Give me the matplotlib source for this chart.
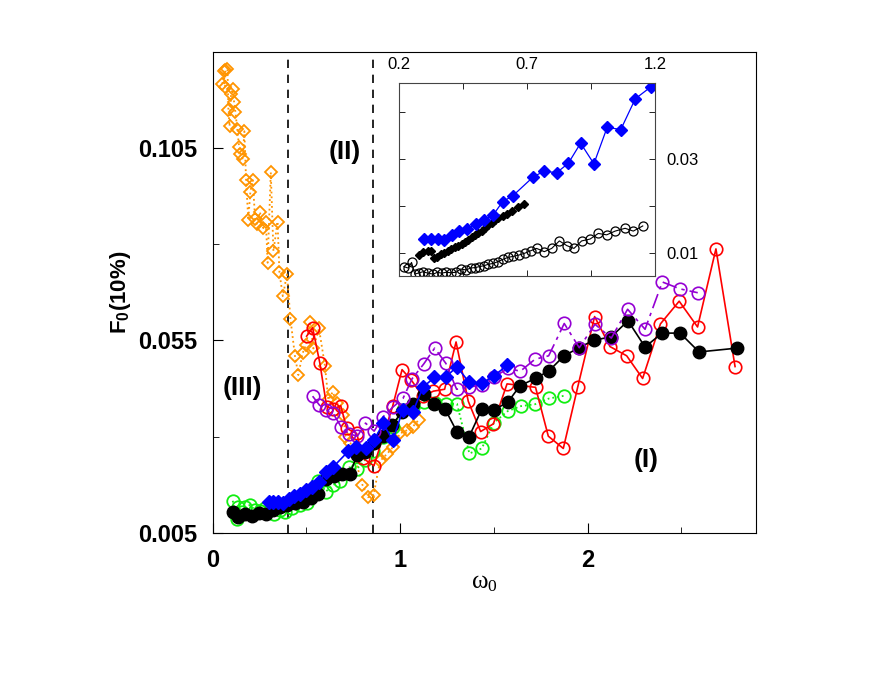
import matplotlib
matplotlib.use('Agg')
import matplotlib.pyplot as plt

plt.rcParams['font.family'] = ['Liberation Sans', 'DejaVu Sans']
plt.rcParams['mathtext.fontset'] = 'custom'
plt.rcParams['mathtext.rm'] = 'Liberation Sans'
plt.rcParams['mathtext.bf'] = 'Liberation Sans:bold'

# ---- main panel data ----
orange_x = [0.052, 0.058, 0.066, 0.068, 0.079, 0.084, 0.090, 0.098, 0.107, 0.114,
            0.121, 0.131, 0.141, 0.148, 0.160, 0.169, 0.178, 0.190, 0.201, 0.214,
            0.226, 0.235, 0.252, 0.270, 0.284, 0.293, 0.310, 0.324, 0.346, 0.356,
            0.374, 0.396, 0.415, 0.439, 0.457, 0.480, 0.498, 0.519, 0.537, 0.567,
            0.599, 0.617, 0.640, 0.663, 0.697, 0.708, 0.735, 0.799, 0.828, 0.858,
            0.892, 0.930, 0.964, 0.999, 1.039, 1.068, 1.100]
orange_y = [0.1217, 0.1250, 0.1209, 0.1253, 0.1255, 0.1148, 0.1107, 0.1190, 0.1203, 0.1171,
            0.1145, 0.1100, 0.1053, 0.1035, 0.1023, 0.1094, 0.0968, 0.0863, 0.0937, 0.0967,
            0.0867, 0.0853, 0.0884, 0.0842, 0.0857, 0.0752, 0.0987, 0.0782, 0.0859, 0.0727,
            0.0665, 0.0722, 0.0605, 0.0509, 0.0460, 0.0517, 0.0539, 0.0598, 0.0529, 0.0581,
            0.0483, 0.0395, 0.0416, 0.0388, 0.0355, 0.0300, 0.0283, 0.0174, 0.0142, 0.0147,
            0.0236, 0.0255, 0.0274, 0.0308, 0.0317, 0.0326, 0.0344]

red_x = [0.501, 0.533, 0.572, 0.608, 0.643, 0.683, 0.715, 0.768, 0.803, 0.860,
         0.960, 1.010, 1.059, 1.120, 1.177, 1.237, 1.298, 1.363, 1.429, 1.497,
         1.570, 1.722, 1.790, 1.870, 1.947, 2.037, 2.119, 2.208, 2.293, 2.388,
         2.488, 2.586, 2.684, 2.786]
red_y = [0.0561, 0.0583, 0.0490, 0.0378, 0.0372, 0.0380, 0.0321, 0.0308, 0.0243, 0.0224,
         0.0379, 0.0474, 0.0447, 0.0405, 0.0418, 0.0423, 0.0546, 0.0392, 0.0313, 0.0333,
         0.0437, 0.0428, 0.0301, 0.0269, 0.0429, 0.0612, 0.0534, 0.0510, 0.0451, 0.0593,
         0.0652, 0.0585, 0.0788, 0.0482]

black_x = [0.108, 0.135, 0.172, 0.210, 0.247, 0.284, 0.321, 0.359, 0.396, 0.439,
           0.482, 0.524, 0.562, 0.604, 0.647, 0.690, 0.732, 0.770, 0.812, 0.860,
           0.908, 0.956, 1.010, 1.068, 1.127, 1.180, 1.239, 1.303, 1.367, 1.436,
           1.500, 1.575, 1.639, 1.724, 1.794, 1.874, 1.954, 2.034, 2.125, 2.215,
           2.306, 2.397, 2.493, 2.594, 2.797]
black_y = [0.0104, 0.0091, 0.0099, 0.0093, 0.0101, 0.0099, 0.0109, 0.0117, 0.0122, 0.0127,
           0.0130, 0.0140, 0.0151, 0.0190, 0.0198, 0.0203, 0.0203, 0.0252, 0.0260, 0.0283,
           0.0301, 0.0330, 0.0364, 0.0385, 0.0411, 0.0385, 0.0372, 0.0312, 0.0299, 0.0372,
           0.0369, 0.0390, 0.0432, 0.0452, 0.0471, 0.0510, 0.0531, 0.0551, 0.0559, 0.0601,
           0.0533, 0.0569, 0.0569, 0.0520, 0.0530]

purple_x = [0.533, 0.569, 0.604, 0.643, 0.684, 0.727, 0.772, 0.815, 0.861, 0.910,
            0.962, 1.015, 1.063, 1.126, 1.184, 1.244, 1.301, 1.367, 1.435, 1.500,
            1.575, 1.641, 1.719, 1.792, 1.875, 1.955, 2.039, 2.126, 2.213, 2.306,
            2.398, 2.493, 2.587]
purple_y = [0.0405, 0.0382, 0.0369, 0.0360, 0.0326, 0.0307, 0.0301, 0.0335, 0.0314, 0.0352,
            0.0377, 0.0399, 0.0450, 0.0489, 0.0530, 0.0490, 0.0423, 0.0428, 0.0435, 0.0455,
            0.0477, 0.0470, 0.0501, 0.0510, 0.0594, 0.0531, 0.0592, 0.0556, 0.0631, 0.0579,
            0.0702, 0.0684, 0.0674]

green_x = [0.107, 0.128, 0.137, 0.155, 0.172, 0.199, 0.226, 0.252, 0.279, 0.306,
           0.327, 0.359, 0.386, 0.421, 0.466, 0.501, 0.537, 0.563, 0.604, 0.642,
           0.679, 0.729, 0.768, 0.812, 0.857, 0.907, 0.960, 1.017, 1.067, 1.127,
           1.186, 1.244, 1.303, 1.369, 1.435, 1.500, 1.573, 1.643, 1.719, 1.794,
           1.874]
green_y = [0.0133, 0.0085, 0.0118, 0.0104, 0.0117, 0.0122, 0.0109, 0.0106, 0.0114, 0.0112,
           0.0099, 0.0109, 0.0105, 0.0113, 0.0122, 0.0126, 0.0157, 0.0184, 0.0157, 0.0174,
           0.0184, 0.0220, 0.0215, 0.0239, 0.0262, 0.0300, 0.0326, 0.0369, 0.0378, 0.0390,
           0.0386, 0.0385, 0.0385, 0.0256, 0.0269, 0.0336, 0.0366, 0.0379, 0.0384, 0.0399,
           0.0406]

# blue series appears both in the main panel and the inset
blue_x = [0.298, 0.324, 0.350, 0.376, 0.405, 0.435, 0.466, 0.499, 0.531, 0.568,
          0.604, 0.643, 0.724, 0.766, 0.816, 0.861, 0.909, 0.961, 1.013, 1.066,
          1.123, 1.183, 1.242, 1.303, 1.367, 1.435, 1.499, 1.572]
blue_y = [0.0130, 0.0130, 0.0130, 0.0127, 0.0138, 0.0146, 0.0151, 0.0161, 0.0170, 0.0181,
          0.0209, 0.0221, 0.0262, 0.0274, 0.0271, 0.0291, 0.0334, 0.0290, 0.0368, 0.0363,
          0.0429, 0.0454, 0.0454, 0.0482, 0.0441, 0.0438, 0.0457, 0.0486]

# ---- inset data ----
inset_dia_x = [0.278, 0.294, 0.311, 0.324, 0.337, 0.349, 0.363, 0.376, 0.389, 0.402,
               0.418, 0.431, 0.444, 0.457, 0.470, 0.483, 0.496, 0.509, 0.522, 0.535,
               0.548, 0.561, 0.574, 0.587, 0.604, 0.620, 0.640, 0.663, 0.689]
inset_dia_y = [0.0095, 0.0102, 0.0104, 0.0104, 0.0088, 0.0091, 0.0097, 0.0099, 0.0104, 0.0107,
               0.0112, 0.0115, 0.0119, 0.0122, 0.0127, 0.0134, 0.0138, 0.0141, 0.0147, 0.0152,
               0.0159, 0.0164, 0.0170, 0.0173, 0.0178, 0.0183, 0.0190, 0.0198, 0.0205]

inset_circ_x = [0.218, 0.235, 0.248, 0.261, 0.278, 0.292, 0.313, 0.333, 0.349, 0.366,
                0.383, 0.401, 0.422, 0.440, 0.461, 0.479, 0.496, 0.513, 0.531, 0.548,
                0.568, 0.587, 0.607, 0.626, 0.646, 0.669, 0.692, 0.714, 0.737, 0.767,
                0.796, 0.826, 0.855, 0.883, 0.913, 0.946, 0.978, 1.011, 1.044, 1.083,
                1.115, 1.152]
inset_circ_y = [0.0070, 0.0067, 0.0079, 0.0054, 0.0057, 0.0059, 0.0056, 0.0054, 0.0058, 0.0056,
                0.0058, 0.0057, 0.0058, 0.0065, 0.0063, 0.0067, 0.0068, 0.0070, 0.0072, 0.0075,
                0.0077, 0.0081, 0.0086, 0.0090, 0.0092, 0.0095, 0.0099, 0.0104, 0.0109, 0.0102,
                0.0109, 0.0125, 0.0115, 0.0109, 0.0125, 0.0129, 0.0141, 0.0138, 0.0146, 0.0152,
                0.0146, 0.0157]

region_lines = [0.40, 0.855]

ORANGE = '#ff9400'
PURPLE = '#9400d3'

fig = plt.figure(figsize=(8.81, 6.81), dpi=100)
ax = fig.add_axes([0.2414, 0.2178, 0.6172, 0.7058])

ax.plot(orange_x, orange_y, ls=':', color=ORANGE, lw=1.3, marker='D', ms=6.5,
        mfc='none', mew=1.3, zorder=2)
ax.plot(green_x, green_y, ls=':', color='#11ee11', lw=1.3, marker='o', ms=9,
        mfc='none', mew=1.3, zorder=3)
ax.plot(red_x, red_y, '-', color='red', lw=1.2, marker='o', ms=9,
        mfc='none', mew=1.2, zorder=4)
ax.plot(black_x, black_y, '-', color='black', lw=1.2, marker='o', ms=9,
        zorder=5)
ax.plot(purple_x, purple_y, color=PURPLE, lw=1.2, dashes=(9, 3, 2, 3),
        marker='o', ms=9, mfc='none', mew=1.2, zorder=6)
ax.plot(blue_x, blue_y, '-', color='blue', lw=1.2, marker='D', ms=7,
        zorder=7)

for xv in region_lines:
    ax.axvline(xv, color='black', ls='--', lw=1.2, dashes=(5, 4), zorder=1)

ax.set_xlim(0, 2.9)
ax.set_ylim(0.005, 0.13)
ax.set_xticks([0, 1, 2])
ax.set_xticks([0.5, 1.5, 2.5], minor=True)
ax.set_xticklabels(['0', '1', '2'], fontweight='bold')
ax.set_yticks([0.005, 0.055, 0.105])
ax.set_yticks([0.03, 0.08], minor=True)
ax.set_yticklabels(['0.005', '0.055', '0.105'], fontweight='bold')
ax.tick_params(which='both', direction='in', top=False, right=False,
               labelsize=17)
ax.tick_params(which='major', length=7)
ax.tick_params(which='minor', length=4)
ax.tick_params(axis='x', pad=12)
ax.tick_params(axis='y', pad=11)

ax.set_xlabel(r'$\mathregular{\omega_0}$', fontsize=18,
              family='Liberation Serif', labelpad=0)
ax.set_ylabel(r'$\mathbf{F_0}$(10%)', fontsize=16, fontweight='bold',
              labelpad=4)

ax.text(0.706, 0.104, '(II)', fontsize=19, fontweight='bold',
        ha='center', va='center')
ax.text(0.157, 0.0426, '(III)', fontsize=19, fontweight='bold',
        ha='center', va='center')
ax.text(2.31, 0.0239, '(I)', fontsize=19, fontweight='bold',
        ha='center', va='center')

# ---- inset ----
ins = fig.add_axes([0.4532, 0.5947, 0.2903, 0.2830])
ins.plot(inset_circ_x, inset_circ_y, '-', color='black', lw=0.8, marker='o',
         ms=6.5, mfc='none', mew=0.9)
ins.plot(inset_dia_x, inset_dia_y, '-', color='black', lw=0.8, marker='D',
         ms=4.5)
bx = [v for v in blue_x if v <= 1.2]
by = blue_y[:len(bx)]
ins.plot(bx, by, '-', color='blue', lw=0.9, marker='D', ms=6)

ins.set_xlim(0.2, 1.2)
ins.set_ylim(0.005, 0.0462)
ins.set_xticks([0.2, 0.7, 1.2])
ins.set_xticks([0.45, 0.95], minor=True)
ins.set_xticklabels(['0.2', '0.7', '1.2'])
ins.set_yticks([0.01, 0.02, 0.03, 0.04])
ins.set_yticklabels(['0.01', '', '0.03', ''])
ins.tick_params(which='both', direction='in', top=True, bottom=True,
                left=True, right=True, labeltop=True, labelbottom=False,
                labelleft=False, labelright=True, labelsize=12,
                length=4, width=0.6, pad=8)
for sp in ins.spines.values():
    sp.set_linewidth(0.8)
    sp.set_color('#444444')

fig.savefig('out.png', dpi=100)
